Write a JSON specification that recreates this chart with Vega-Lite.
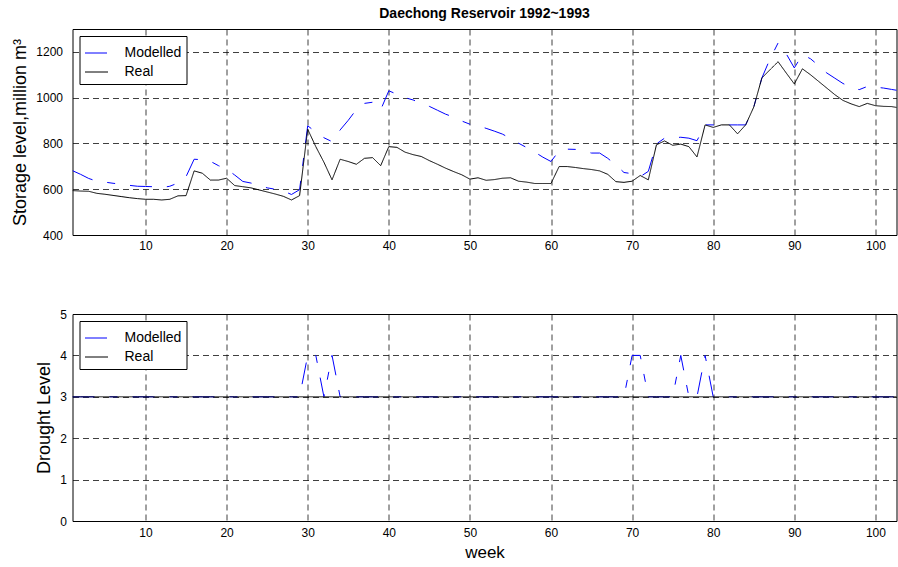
{
  "$schema": "https://vega.github.io/schema/vega-lite/v6.json",
  "padding": {"left": 10.5, "top": 6, "right": 0, "bottom": 2},
  "background": "white",
  "config": {
    "font": "Liberation Sans",
    "view": {"stroke": "black", "strokeWidth": 1},
    "axis": {
      "grid": true, "gridColor": "black", "gridDash": [6, 4], "gridOpacity": 0.75, "gridWidth": 1,
      "domain": false, "ticks": false, "format": "d",
      "labelFontSize": 12, "labelColor": "black", "labelFont": "Liberation Sans",
      "titleFont": "Liberation Sans", "titleFontSize": 18, "titleFontWeight": "normal", "titleColor": "black"
    },
    "legend": {
      "orient": "top-left", "offset": 7, "strokeColor": "black", "fillColor": "white",
      "padding": 5, "rowPadding": -1, "labelFontSize": 14, "labelFont": "Liberation Sans", "labelColor": "black",
      "symbolSize": 529, "symbolType": "stroke", "symbolStrokeWidth": 1, "labelOffset": 16, "symbolDash": [1, 0]
    }
  },
  "datasets": {
    "storage": [
      {"week":1,"Modelled":681,"Real":594},{"week":2,"Modelled":665,"Real":592},{"week":3,"Modelled":647,"Real":591},
      {"week":4,"Modelled":635,"Real":582},{"week":5,"Modelled":631,"Real":578},{"week":6,"Modelled":626,"Real":573},
      {"week":7,"Modelled":622,"Real":568},{"week":8,"Modelled":617,"Real":563},{"week":9,"Modelled":613,"Real":559},
      {"week":10,"Modelled":612,"Real":556},{"week":11,"Modelled":611,"Real":556},{"week":12,"Modelled":607,"Real":553},
      {"week":13,"Modelled":613,"Real":556},{"week":14,"Modelled":627,"Real":571},{"week":15,"Modelled":655,"Real":572},
      {"week":16,"Modelled":731,"Real":680},{"week":17,"Modelled":729,"Real":670},{"week":18,"Modelled":722,"Real":640},
      {"week":19,"Modelled":703,"Real":640},{"week":20,"Modelled":688,"Real":648},{"week":21,"Modelled":662,"Real":616},
      {"week":22,"Modelled":634,"Real":611},{"week":23,"Modelled":627,"Real":606},{"week":24,"Modelled":618,"Real":597},
      {"week":25,"Modelled":606,"Real":588},{"week":26,"Modelled":600,"Real":579},{"week":27,"Modelled":592,"Real":569},
      {"week":28,"Modelled":577,"Real":553},{"week":29,"Modelled":598,"Real":572},{"week":30,"Modelled":877,"Real":862},
      {"week":31,"Modelled":850,"Real":786},{"week":32,"Modelled":825,"Real":718},{"week":33,"Modelled":808,"Real":641},
      {"week":34,"Modelled":859,"Real":731},{"week":35,"Modelled":901,"Real":721},{"week":36,"Modelled":948,"Real":709},
      {"week":37,"Modelled":975,"Real":735},{"week":38,"Modelled":980,"Real":738},{"week":39,"Modelled":947,"Real":703},
      {"week":40,"Modelled":1030,"Real":786},{"week":41,"Modelled":1015,"Real":783},{"week":42,"Modelled":1000,"Real":762},
      {"week":43,"Modelled":990,"Real":751},{"week":44,"Modelled":975,"Real":743},{"week":45,"Modelled":962,"Real":725},
      {"week":46,"Modelled":945,"Real":709},{"week":47,"Modelled":928,"Real":692},{"week":48,"Modelled":915,"Real":677},
      {"week":49,"Modelled":898,"Real":663},{"week":50,"Modelled":884,"Real":644},{"week":51,"Modelled":877,"Real":650},
      {"week":52,"Modelled":866,"Real":639},{"week":53,"Modelled":854,"Real":642},{"week":54,"Modelled":841,"Real":648},
      {"week":55,"Modelled":822,"Real":650},{"week":56,"Modelled":801,"Real":635},{"week":57,"Modelled":782,"Real":631},
      {"week":58,"Modelled":762,"Real":625},{"week":59,"Modelled":740,"Real":625},{"week":60,"Modelled":721,"Real":625},
      {"week":61,"Modelled":768,"Real":699},{"week":62,"Modelled":775,"Real":699},{"week":63,"Modelled":774,"Real":695},
      {"week":64,"Modelled":766,"Real":690},{"week":65,"Modelled":758,"Real":686},{"week":66,"Modelled":758,"Real":680},
      {"week":67,"Modelled":735,"Real":665},{"week":68,"Modelled":706,"Real":633},{"week":69,"Modelled":673,"Real":630},
      {"week":70,"Modelled":668,"Real":635},{"week":71,"Modelled":655,"Real":660},{"week":72,"Modelled":678,"Real":641},
      {"week":73,"Modelled":798,"Real":794},{"week":74,"Modelled":823,"Real":811},{"week":75,"Modelled":825,"Real":792},
      {"week":76,"Modelled":827,"Real":797},{"week":77,"Modelled":823,"Real":786},{"week":78,"Modelled":812,"Real":741},
      {"week":79,"Modelled":881,"Real":881},{"week":80,"Modelled":881,"Real":870},{"week":81,"Modelled":881,"Real":881},
      {"week":82,"Modelled":881,"Real":881},{"week":83,"Modelled":881,"Real":842},{"week":84,"Modelled":881,"Real":881},
      {"week":85,"Modelled":959,"Real":959},{"week":86,"Modelled":1086,"Real":1086},{"week":87,"Modelled":1169,"Real":1122},
      {"week":88,"Modelled":1239,"Real":1157},{"week":89,"Modelled":1192,"Real":1108},{"week":90,"Modelled":1130,"Real":1060},
      {"week":91,"Modelled":1188,"Real":1126},{"week":92,"Modelled":1170,"Real":1100},{"week":93,"Modelled":1140,"Real":1071},
      {"week":94,"Modelled":1108,"Real":1042},{"week":95,"Modelled":1085,"Real":1013},{"week":96,"Modelled":1062,"Real":988},
      {"week":97,"Modelled":1045,"Real":973},{"week":98,"Modelled":1035,"Real":961},{"week":99,"Modelled":1049,"Real":975},
      {"week":100,"Modelled":1046,"Real":965},{"week":101,"Modelled":1042,"Real":962},{"week":102,"Modelled":1036,"Real":961},
      {"week":103,"Modelled":1030,"Real":955}
    ],
    "drought": [
      {"week":1,"Modelled":3,"Real":3},{"week":2,"Modelled":3,"Real":3},{"week":3,"Modelled":3,"Real":3},{"week":4,"Modelled":3,"Real":3},
      {"week":5,"Modelled":3,"Real":3},{"week":6,"Modelled":3,"Real":3},{"week":7,"Modelled":3,"Real":3},{"week":8,"Modelled":3,"Real":3},
      {"week":9,"Modelled":3,"Real":3},{"week":10,"Modelled":3,"Real":3},{"week":11,"Modelled":3,"Real":3},{"week":12,"Modelled":3,"Real":3},
      {"week":13,"Modelled":3,"Real":3},{"week":14,"Modelled":3,"Real":3},{"week":15,"Modelled":3,"Real":3},{"week":16,"Modelled":3,"Real":3},
      {"week":17,"Modelled":3,"Real":3},{"week":18,"Modelled":3,"Real":3},{"week":19,"Modelled":3,"Real":3},{"week":20,"Modelled":3,"Real":3},
      {"week":21,"Modelled":3,"Real":3},{"week":22,"Modelled":3,"Real":3},{"week":23,"Modelled":3,"Real":3},{"week":24,"Modelled":3,"Real":3},
      {"week":25,"Modelled":3,"Real":3},{"week":26,"Modelled":3,"Real":3},{"week":27,"Modelled":3,"Real":3},{"week":28,"Modelled":3,"Real":3},
      {"week":29,"Modelled":3,"Real":3},{"week":30,"Modelled":4,"Real":3},{"week":31,"Modelled":4,"Real":3},{"week":32,"Modelled":3,"Real":3},
      {"week":33,"Modelled":4,"Real":3},{"week":34,"Modelled":3,"Real":3},{"week":35,"Modelled":3,"Real":3},{"week":36,"Modelled":3,"Real":3},
      {"week":37,"Modelled":3,"Real":3},{"week":38,"Modelled":3,"Real":3},{"week":39,"Modelled":3,"Real":3},{"week":40,"Modelled":3,"Real":3},
      {"week":41,"Modelled":3,"Real":3},{"week":42,"Modelled":3,"Real":3},{"week":43,"Modelled":3,"Real":3},{"week":44,"Modelled":3,"Real":3},
      {"week":45,"Modelled":3,"Real":3},{"week":46,"Modelled":3,"Real":3},{"week":47,"Modelled":3,"Real":3},{"week":48,"Modelled":3,"Real":3},
      {"week":49,"Modelled":3,"Real":3},{"week":50,"Modelled":3,"Real":3},{"week":51,"Modelled":3,"Real":3},{"week":52,"Modelled":3,"Real":3},
      {"week":53,"Modelled":3,"Real":3},{"week":54,"Modelled":3,"Real":3},{"week":55,"Modelled":3,"Real":3},{"week":56,"Modelled":3,"Real":3},
      {"week":57,"Modelled":3,"Real":3},{"week":58,"Modelled":3,"Real":3},{"week":59,"Modelled":3,"Real":3},{"week":60,"Modelled":3,"Real":3},
      {"week":61,"Modelled":3,"Real":3},{"week":62,"Modelled":3,"Real":3},{"week":63,"Modelled":3,"Real":3},{"week":64,"Modelled":3,"Real":3},
      {"week":65,"Modelled":3,"Real":3},{"week":66,"Modelled":3,"Real":3},{"week":67,"Modelled":3,"Real":3},{"week":68,"Modelled":3,"Real":3},
      {"week":69,"Modelled":3,"Real":3},{"week":70,"Modelled":4,"Real":3},{"week":71,"Modelled":4,"Real":3},{"week":72,"Modelled":3,"Real":3},
      {"week":73,"Modelled":3,"Real":3},{"week":74,"Modelled":3,"Real":3},{"week":75,"Modelled":3,"Real":3},{"week":76,"Modelled":4,"Real":3},
      {"week":77,"Modelled":3,"Real":3},{"week":78,"Modelled":3,"Real":3},{"week":79,"Modelled":4,"Real":3},{"week":80,"Modelled":3,"Real":3},
      {"week":81,"Modelled":3,"Real":3},{"week":82,"Modelled":3,"Real":3},{"week":83,"Modelled":3,"Real":3},{"week":84,"Modelled":3,"Real":3},
      {"week":85,"Modelled":3,"Real":3},{"week":86,"Modelled":3,"Real":3},{"week":87,"Modelled":3,"Real":3},{"week":88,"Modelled":3,"Real":3},
      {"week":89,"Modelled":3,"Real":3},{"week":90,"Modelled":3,"Real":3},{"week":91,"Modelled":3,"Real":3},{"week":92,"Modelled":3,"Real":3},
      {"week":93,"Modelled":3,"Real":3},{"week":94,"Modelled":3,"Real":3},{"week":95,"Modelled":3,"Real":3},{"week":96,"Modelled":3,"Real":3},
      {"week":97,"Modelled":3,"Real":3},{"week":98,"Modelled":3,"Real":3},{"week":99,"Modelled":3,"Real":3},{"week":100,"Modelled":3,"Real":3},
      {"week":101,"Modelled":3,"Real":3},{"week":102,"Modelled":3,"Real":3},{"week":103,"Modelled":3,"Real":3}
    ]
  },
  "spacing": 55,
  "vconcat": [
    {
      "width": 824, "height": 206,
      "data": {"name": "storage"},
      "transform": [{"fold": ["Modelled", "Real"], "as": ["series", "value"]}],
      "title": {"text": "Daechong Reservoir 1992~1993", "fontSize": 14, "fontWeight": "bold", "frame": "group", "anchor": "middle", "offset": 8, "font": "Liberation Sans", "color": "black"},
      "mark": {"type": "line", "strokeWidth": 1, "clip": true},
      "encoding": {
        "x": {"field": "week", "type": "quantitative", "scale": {"domain": [1, 102.6], "nice": false, "zero": false},
              "axis": {"values": [10,20,30,40,50,60,70,80,90,100], "title": null, "labelPadding": 5}},
        "y": {"field": "value", "type": "quantitative", "scale": {"domain": [400, 1300], "nice": false, "zero": false},
              "axis": {"values": [400,600,800,1000,1200], "title": "Storage level,million m³", "labelPadding": 10, "titlePadding": 6}},
        "color": {"field": "series", "type": "nominal", "scale": {"domain": ["Modelled", "Real"], "range": ["#0000ff", "#000000"]},
                  "legend": {"title": null, "symbolDash": [1, 0], "encode": {"symbols": {"update": {"strokeDash": {"value": [1, 0]}}}}}},
        "strokeDash": {"field": "series", "type": "nominal", "scale": {"domain": ["Modelled", "Real"], "range": [[22, 15, 8, 15], [1, 0]]}, "legend": null}
      }
    },
    {
      "width": 824, "height": 207,
      "data": {"name": "drought"},
      "transform": [{"fold": ["Modelled", "Real"], "as": ["series", "value"]}],
      "mark": {"type": "line", "strokeWidth": 1, "clip": true},
      "encoding": {
        "x": {"field": "week", "type": "quantitative", "scale": {"domain": [1, 102.6], "nice": false, "zero": false},
              "axis": {"values": [10,20,30,40,50,60,70,80,90,100], "title": "week", "titleFontSize": 17, "labelPadding": 6, "titlePadding": 6}},
        "y": {"field": "value", "type": "quantitative", "scale": {"domain": [0, 5], "nice": false, "zero": false},
              "axis": {"values": [0,1,2,3,4,5], "title": "Drought Level", "labelPadding": 6, "titlePadding": 6}},
        "color": {"field": "series", "type": "nominal", "scale": {"domain": ["Modelled", "Real"], "range": ["#0000ff", "#000000"]},
                  "legend": {"title": null, "symbolDash": [1, 0], "encode": {"symbols": {"update": {"strokeDash": {"value": [1, 0]}}}}}},
        "strokeDash": {"field": "series", "type": "nominal", "scale": {"domain": ["Modelled", "Real"], "range": [[22, 15, 8, 15], [1, 0]]}, "legend": null}
      }
    }
  ],
  "resolve": {"scale": {"color": "independent", "strokeDash": "independent", "x": "independent", "y": "independent"}, "legend": {"color": "independent"}}
}
